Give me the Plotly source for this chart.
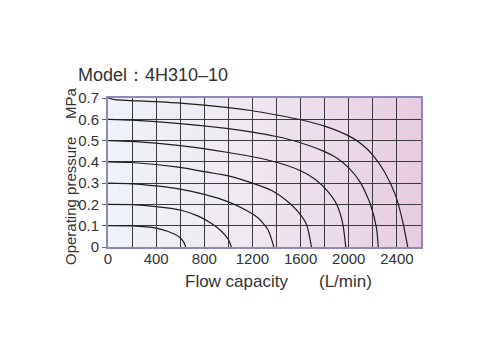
import plotly.graph_objects as go

# ---- data ----
flow_07 = [0, 60, 200, 600, 1000, 1200, 1400, 1600, 1800, 2000, 2100, 2200, 2300, 2390, 2450, 2490]
p_07 = [0.70, 0.692, 0.688, 0.676, 0.655, 0.640, 0.620, 0.598, 0.568, 0.522, 0.486, 0.432, 0.350, 0.240, 0.115, 0.0]

flow_06 = [0, 200, 600, 1000, 1200, 1400, 1600, 1800, 1900, 2000, 2100, 2180, 2230, 2245]
p_06 = [0.60, 0.596, 0.580, 0.556, 0.540, 0.519, 0.490, 0.448, 0.418, 0.372, 0.300, 0.200, 0.090, 0.0]

flow_05 = [0, 200, 600, 1000, 1200, 1400, 1600, 1720, 1820, 1900, 1950, 1975]
p_05 = [0.50, 0.496, 0.476, 0.444, 0.424, 0.398, 0.358, 0.318, 0.265, 0.200, 0.110, 0.0]

flow_04 = [0, 200, 600, 800, 1000, 1200, 1360, 1480, 1580, 1650, 1690]
p_04 = [0.40, 0.397, 0.374, 0.354, 0.334, 0.300, 0.265, 0.220, 0.165, 0.105, 0.0]

flow_03 = [0, 200, 400, 600, 800, 1000, 1140, 1250, 1330, 1378]
p_03 = [0.30, 0.297, 0.287, 0.272, 0.247, 0.212, 0.175, 0.135, 0.080, 0.0]

flow_02 = [0, 200, 400, 600, 750, 860, 940, 1000, 1025]
p_02 = [0.20, 0.199, 0.190, 0.174, 0.145, 0.110, 0.075, 0.035, 0.0]

flow_01 = [0, 200, 400, 500, 590, 630, 645]
p_01 = [0.10, 0.099, 0.089, 0.073, 0.048, 0.022, 0.0]

curves = [(flow_01, p_01), (flow_02, p_02), (flow_03, p_03), (flow_04, p_04),
          (flow_05, p_05), (flow_06, p_06), (flow_07, p_07)]

x_grid = list(range(0, 2601, 200))
x_ticktext = [str(v) if v % 400 == 0 and v <= 2400 else "" for v in x_grid]
y_ticks = [0, 0.1, 0.2, 0.3, 0.4, 0.5, 0.6, 0.7]
y_ticktext = ["0", "0.1", "0.2", "0.3", "0.4", "0.5", "0.6", "0.7"]

title_text = "Model：4H310–10"
x_title = "Flow capacity"
x_unit = "(L/min)"
y_title = "Operating pressure"
y_unit = "MPa"

# ---- figure ----
fig = go.Figure()
for fx, py in curves:
    fig.add_trace(go.Scatter(x=fx, y=py, mode="lines",
                             line=dict(color="#1e1e1e", width=1.2, shape="spline", smoothing=0.6),
                             hoverinfo="skip", showlegend=False))

# background gradient (light blue-grey -> pink), drawn below gridlines
def lerp(c1, c2, t):
    return tuple(round(a + (b - a) * t) for a, b in zip(c1, c2))

stops = [(0.0, (238, 243, 249)), (0.45, (240, 232, 242)), (1.0, (232, 203, 226))]
n = 60
shapes = []
for i in range(n):
    t = (i + 0.5) / n
    for j in range(len(stops) - 1):
        if stops[j][0] <= t <= stops[j + 1][0]:
            tt = (t - stops[j][0]) / (stops[j + 1][0] - stops[j][0])
            c = lerp(stops[j][1], stops[j + 1][1], tt)
            break
    shapes.append(dict(type="rect", xref="paper", yref="paper",
                       x0=i / n, x1=(i + 1) / n + 0.002, y0=0, y1=1,
                       fillcolor="rgb(%d,%d,%d)" % c, line=dict(width=0), layer="below"))

fig.update_layout(
    width=500, height=350,
    margin=dict(l=108, r=79, t=98, b=103),
    paper_bgcolor="white", plot_bgcolor="white",
    shapes=shapes,
    title=dict(text=title_text, x=78 / 500, xanchor="left", y=1 - 75 / 350, yanchor="middle",
               font=dict(family="Liberation Sans, Arial", size=18, color="#333333")),
    font=dict(family="Liberation Sans, Arial", color="#333333"),
    xaxis=dict(range=[0, 2600], tickvals=x_grid, ticktext=x_ticktext,
               showgrid=True, gridcolor="#3a3a3a", gridwidth=1.3,
               showline=True, mirror=True, linecolor="#9088b8", linewidth=2,
               ticks="", zeroline=False, ticklabelstandoff=-3,
               tickfont=dict(size=15, color="#333333")),
    yaxis=dict(range=[0, 0.7], tickvals=y_ticks, ticktext=y_ticktext,
               showgrid=True, gridcolor="#3a3a3a", gridwidth=1.3,
               showline=True, mirror=True, linecolor="#9088b8", linewidth=2,
               ticks="outside", ticklen=4, tickcolor="#666666", zeroline=False,
               tickfont=dict(size=15, color="#333333")),
    annotations=[
        dict(text=x_title, xref="paper", yref="paper", x=(236.7 - 108) / 313, y=(247 - 281.7) / 149,
             showarrow=False, xanchor="center", yanchor="middle", font=dict(size=17, color="#333333")),
        dict(text=x_unit, xref="paper", yref="paper", x=(345.5 - 108) / 313, y=(247 - 281.7) / 149,
             showarrow=False, xanchor="center", yanchor="middle", font=dict(size=17, color="#333333")),
        dict(text=y_title, xref="paper", yref="paper", x=(70 - 108) / 313, y=(247 - 201) / 149,
             showarrow=False, textangle=-90, xanchor="center", yanchor="middle",
             font=dict(size=15, color="#333333")),
        dict(text=y_unit, xref="paper", yref="paper", x=(70 - 108) / 313, y=(247 - 103) / 149,
             showarrow=False, textangle=-90, xanchor="center", yanchor="middle",
             font=dict(size=15, color="#333333")),
    ],
)

fig.write_html("out.html")
